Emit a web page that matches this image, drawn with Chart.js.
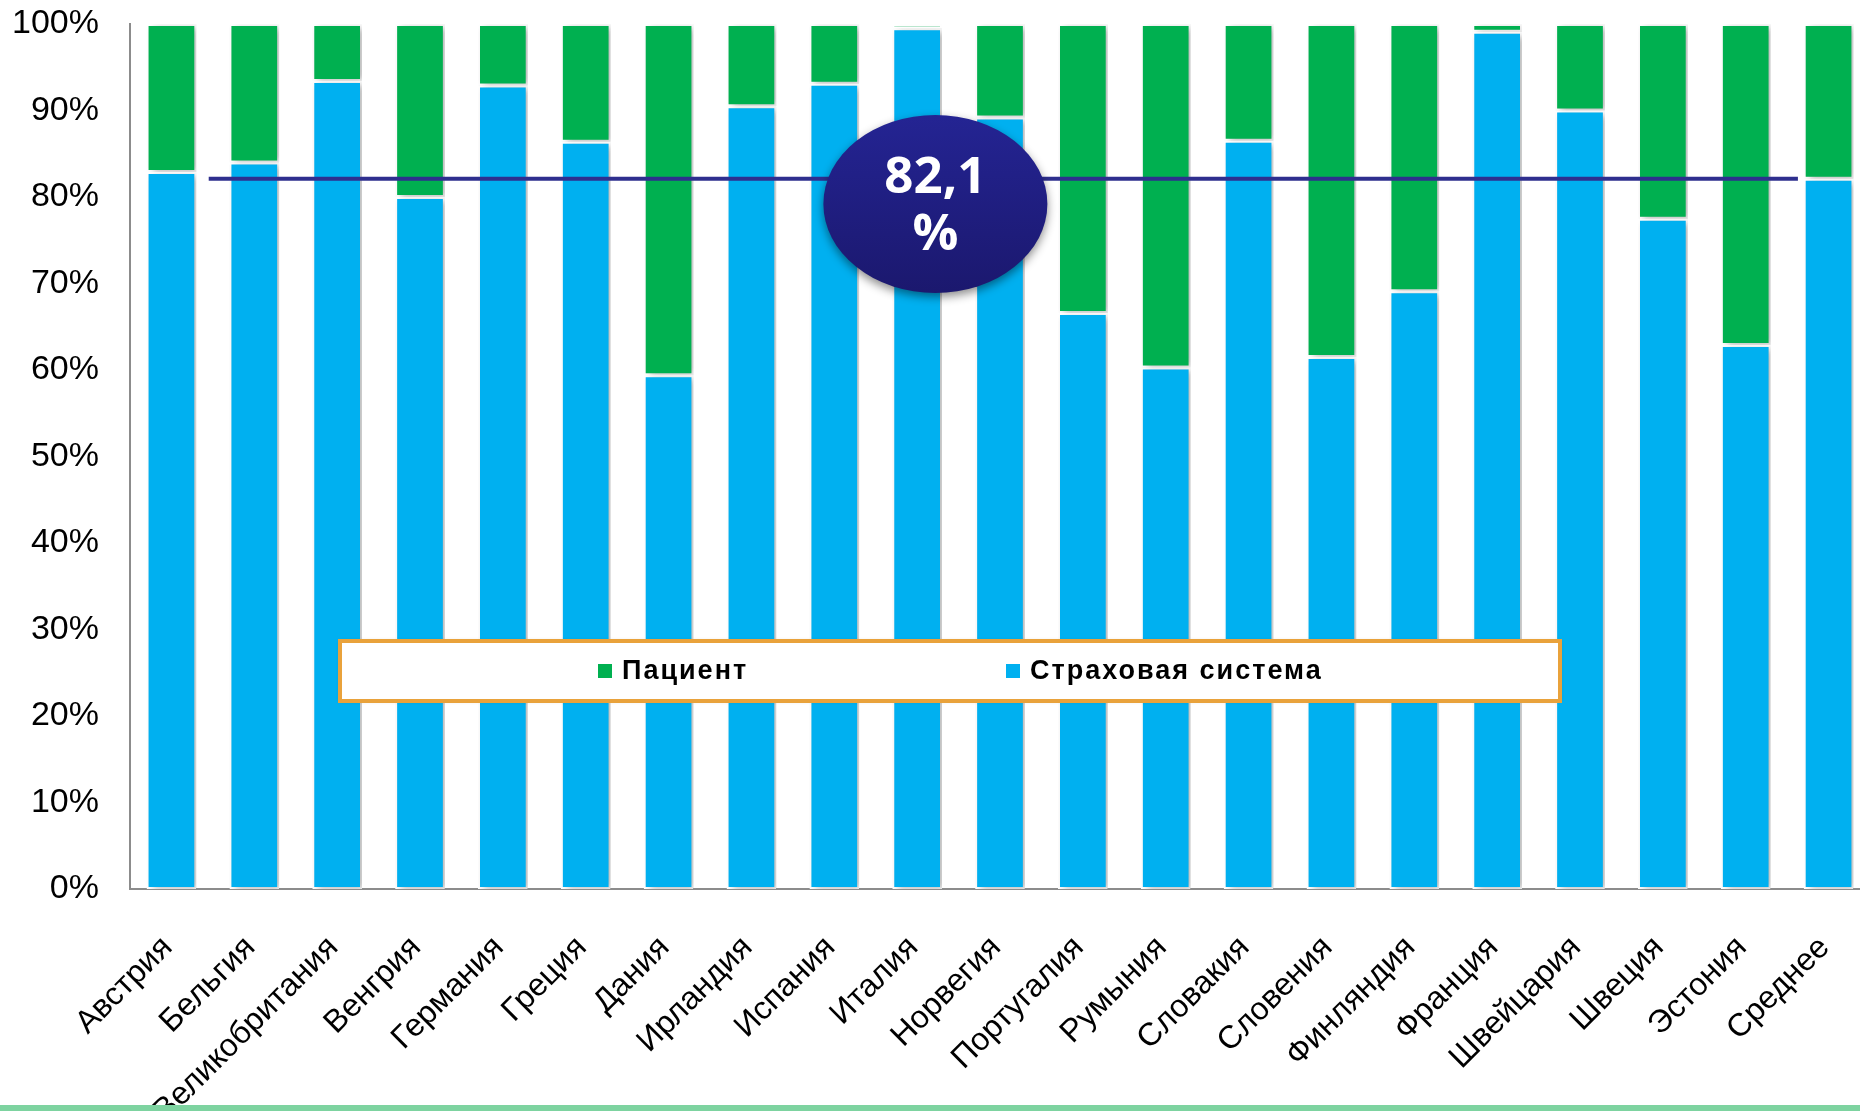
<!DOCTYPE html>
<html lang="ru">
<head>
<meta charset="utf-8">
<title>Структура оплаты</title>
<script src="https://cdn.jsdelivr.net/npm/chart.js@4.4.1/dist/chart.umd.min.js"></script>
<style>
  html, body { margin: 0; padding: 0; background: #fff; overflow: hidden; }
  #wrap { position: relative; width: 1880px; height: 1111px; }
  #footer { position: absolute; left: 0; top: 1105px; width: 1860px; height: 6px; background: #7dd3a0; }
</style>
</head>
<body>
<div id="wrap"><canvas id="chart"></canvas></div>
<div id="footer"></div>
<script>
const countries = [
  'Австрия', 'Бельгия', 'Великобритания', 'Венгрия', 'Германия', 'Греция', 'Дания',
  'Ирландия', 'Испания', 'Италия', 'Норвегия', 'Португалия', 'Румыния', 'Словакия',
  'Словения', 'Финляндия', 'Франция', 'Швейцария', 'Швеция', 'Эстония', 'Среднее'
];
// share paid by the insurance system, %
const insurance = [82.9, 84.0, 93.4, 80.0, 92.9, 86.4, 59.4, 90.5, 93.1, 99.5, 89.2,
                   66.6, 60.3, 86.5, 61.5, 69.1, 99.1, 90.0, 77.5, 62.9, 82.1];
// share paid by the patient, %
const patient = [17.1, 16.0, 6.6, 20.0, 7.1, 13.6, 40.6, 9.5, 6.9, 0.5, 10.8,
                 33.4, 39.7, 13.5, 38.5, 30.9, 0.9, 10.0, 22.5, 37.1, 17.9];
const yTicks = [0, 10, 20, 30, 40, 50, 60, 70, 80, 90, 100];
const averageValue = 82.1;

const GREEN = '#00b050';
const BLUE = '#00b0f0';

// soft drop shadow behind the bars
const barShadow = {
  id: 'barShadow',
  beforeDatasetsDraw(chart) {
    const ctx = chart.ctx;
    ctx.save();
    ctx.shadowColor = 'rgba(0,0,0,0.28)';
    ctx.shadowBlur = 7;
    ctx.shadowOffsetX = 4;
    ctx.shadowOffsetY = 2;
  },
  afterDatasetsDraw(chart) {
    chart.ctx.restore();
  }
};

// average line, value bubble and the boxed legend
const overlay = {
  id: 'overlay',
  afterDraw(chart, args, opts) {
    const ctx = chart.ctx;
    const x = chart.scales.x, y = chart.scales.y;

    // average line
    const ly = y.getPixelForValue(averageValue);
    ctx.save();
    ctx.strokeStyle = '#2e2f8e';
    ctx.lineWidth = 4;
    ctx.beginPath();
    ctx.moveTo(x.getPixelForValue(opts.lineFrom), ly);
    ctx.lineTo(x.getPixelForValue(opts.lineTo), ly);
    ctx.stroke();
    ctx.restore();

    // bubble with the average value
    const bx = x.getPixelForValue(opts.bubbleAt[0]);
    const by = y.getPixelForValue(opts.bubbleAt[1]);
    ctx.save();
    ctx.shadowColor = 'rgba(0,0,0,0.45)';
    ctx.shadowBlur = 10;
    ctx.shadowOffsetY = 4;
    const grad = ctx.createLinearGradient(0, by - 89, 0, by + 89);
    grad.addColorStop(0, '#242493');
    grad.addColorStop(1, '#1b186e');
    ctx.fillStyle = grad;
    ctx.beginPath();
    ctx.ellipse(bx, by, 112, 89, 0, 0, Math.PI * 2);
    ctx.fill();
    ctx.restore();

    ctx.save();
    ctx.fillStyle = '#ffffff';
    ctx.font = 'bold 51px "Open Sans", sans-serif';
    ctx.textAlign = 'center';
    ctx.textBaseline = 'alphabetic';
    ctx.fillText(averageValue.toFixed(1).replace('.', ','), bx, by - 11);
    ctx.fillText('%', bx, by + 46);
    ctx.restore();

    // legend box
    const L = opts.legend;
    ctx.save();
    ctx.fillStyle = '#ffffff';
    ctx.shadowColor = 'rgba(0,0,0,0.2)';
    ctx.shadowBlur = 4;
    ctx.fillRect(L.left, L.top, L.width, L.height);
    ctx.restore();
    ctx.save();
    ctx.strokeStyle = '#e9a23b';
    ctx.lineWidth = 4;
    ctx.strokeRect(L.left, L.top, L.width, L.height);
    ctx.font = 'bold 27px "Liberation Sans", Arial, sans-serif';
    ctx.letterSpacing = '2px';
    ctx.textBaseline = 'middle';
    const cy = L.top + L.height / 2;
    const items = chart.data.datasets.slice().reverse();
    items.forEach((ds, i) => {
      const ix = L.items[i];
      ctx.fillStyle = ds.backgroundColor;
      ctx.fillRect(ix, cy - 7, 14, 14);
      ctx.fillStyle = '#000';
      ctx.fillText(ds.label, ix + 24, cy + 1);
    });
    ctx.restore();
  }
};

new Chart(document.getElementById('chart'), {
  type: 'bar',
  data: {
    labels: countries,
    datasets: [
      {
        label: 'Страховая система',
        data: insurance,
        backgroundColor: BLUE,
        borderColor: '#ffffff',
        borderWidth: 2,
        borderSkipped: false,
        barPercentage: 0.6,
        categoryPercentage: 1
      },
      {
        label: 'Пациент',
        data: patient,
        backgroundColor: GREEN,
        borderColor: '#ffffff',
        borderWidth: 2,
        borderSkipped: false,
        barPercentage: 0.6,
        categoryPercentage: 1
      }
    ]
  },
  options: {
    responsive: true,
    maintainAspectRatio: false,
    animation: false,
    layout: { padding: { top: 24, right: 10, left: 0, bottom: 0 } },
    plugins: {
      legend: { display: false },
      tooltip: { enabled: false },
      overlay: {
        lineFrom: 0.45,
        lineTo: 19.63,
        bubbleAt: [9.22, 79.2],
        legend: { left: 340, top: 641, width: 1220, height: 60, items: [598, 1006] }
      }
    },
    scales: {
      x: {
        stacked: true,
        grid: { display: false, drawTicks: false },
        border: { display: true, color: '#8c8c8c', width: 2 },
        ticks: {
          autoSkip: false,
          maxRotation: 45,
          minRotation: 45,
          padding: 40,
          labelOffset: -4,
          color: '#000',
          font: { family: '"Liberation Sans", Arial, sans-serif', size: 32 }
        },
        afterFit(scale) {
          scale.height = 1111 - 889;
          scale.paddingLeft = 0;
          scale.paddingRight = 0;
        }
      },
      y: {
        stacked: true,
        min: 0,
        max: 100,
        afterBuildTicks(scale) { scale.ticks = yTicks.map(v => ({ value: v })); },
        grid: { display: false, drawTicks: false },
        border: { display: true, color: '#8c8c8c', width: 2 },
        ticks: {
          padding: 31,
          color: '#000',
          font: { family: '"Liberation Sans", Arial, sans-serif', size: 34 },
          callback: v => v + '%'
        },
        afterFit(scale) {
          scale.width = 130;
          scale.paddingTop = 0;
          scale.paddingBottom = 0;
        }
      }
    }
  },
  plugins: [barShadow, overlay]
});
</script>
</body>
</html>
